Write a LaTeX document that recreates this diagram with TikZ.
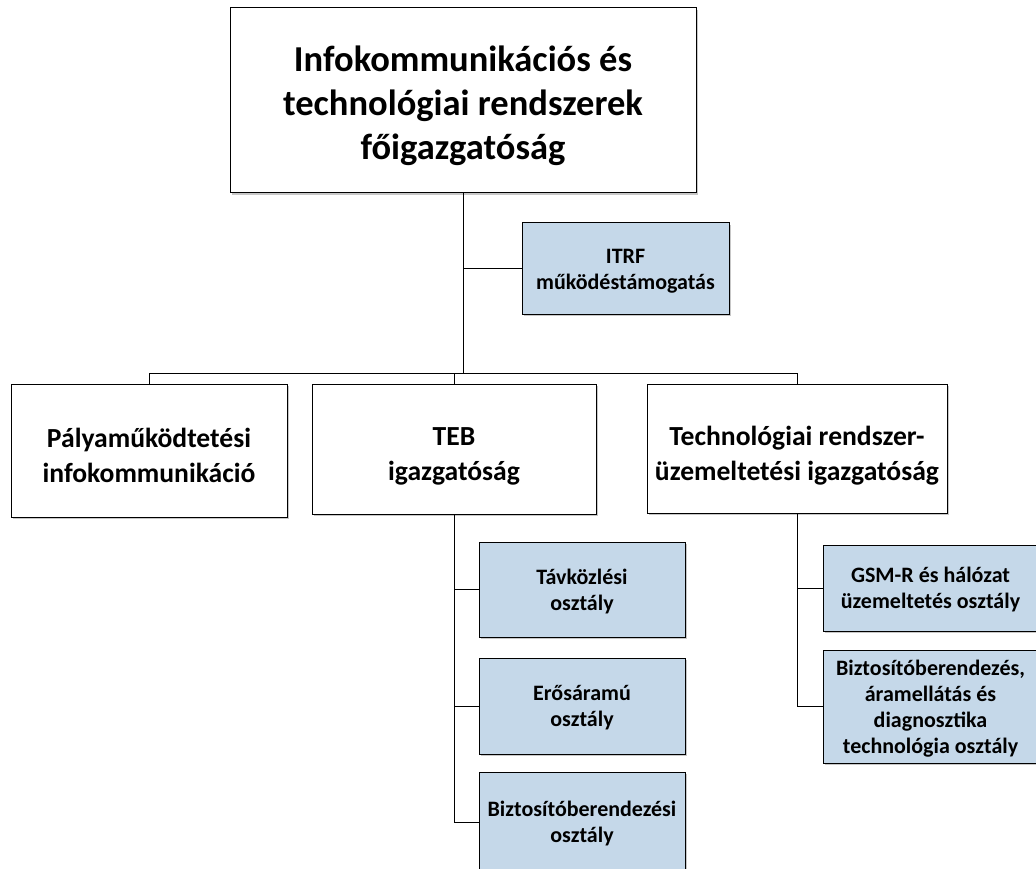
\documentclass[tikz,border=0pt]{standalone}
\usepackage{fontspec}
\setmainfont{Carlito}
\usetikzlibrary{shadows}
\definecolor{unitblue}{HTML}{C5D8E9}
% struts fixing the ascent of a first line and the descent of a last line
\newcommand\bigA{\rule{0pt}{38pt}}
\newcommand\bigD{\rule[-7pt]{0pt}{7pt}}
\newcommand\midA{\rule{0pt}{34pt}}
\newcommand\midD{\rule[-5.5pt]{0pt}{5.5pt}}
\newcommand\depA{\rule{0pt}{21pt}}
\newcommand\depD{\rule[-5.5pt]{0pt}{5.5pt}}
\tikzset{
  x=1pt, y=-1pt,
  unit/.style={draw=black, line width=1pt, fill=white, align=center,
    inner sep=0pt,
    drop shadow={shadow xshift=2.2pt, shadow yshift=-2.2pt, fill=black!22, opacity=1}},
  big/.style={unit, font=\bfseries\fontsize{36.5}{44}\selectfont},
  mid/.style={unit, font=\bfseries\fontsize{27.6}{35}\selectfont},
  dept/.style={unit, fill=unitblue, font=\bfseries\fontsize{22}{26}\selectfont},
  link/.style={draw=black, line width=1pt},
}
\begin{document}
\begin{tikzpicture}
\useasboundingbox (0,0) rectangle (1036,869);
\clip (0,0) rectangle (1036,869);
\fill[white] (0,0) rectangle (1036,869);

% top level
\node[big, minimum width=466pt, minimum height=185pt] (top) at (463,100.5)
  {\bigA Infokommunikációs és\\technológiai rendszerek\\főigazgatóság\bigD};
\node[dept, minimum width=207pt, minimum height=91pt] (itrf) at (625.5,268.5)
  {\depA ITRF\\működéstámogatás\depD};

% directorates
\node[mid, minimum width=276pt, minimum height=133pt] (pal) at (149,450.5)
  {\midA Pályaműködtetési\\infokommunikáció\midD};
\node[mid, minimum width=284pt, minimum height=130pt] (teb) at (454,449)
  {\midA TEB\\igazgatóság\midD};
\node[mid, minimum width=300pt, minimum height=129pt] (tech) at (797,448.5)
  {\midA Technológiai rendszer-\\üzemeltetési igazgatóság\midD};

% TEB departments
\node[dept, minimum width=206pt, minimum height=95pt] (tav) at (582,589.5)
  {\depA Távközlési\\osztály\depD};
\node[dept, minimum width=206pt, minimum height=96pt] (ero) at (582,706)
  {\depA Erősáramú\\osztály\depD};
\node[dept, minimum width=206pt, minimum height=100pt] (biz) at (582,822)
  {\depA Biztosítóberendezési\\osztály\depD};

% technology departments
\node[dept, minimum width=215pt, minimum height=86pt] (gsm) at (930.5,588)
  {\depA GSM-R és hálózat\\üzemeltetés osztály\depD};
\node[dept, minimum width=215pt, minimum height=113pt] (bat) at (930.5,706.5)
  {\depA Biztosítóberendezés,\\áramellátás és\\diagnosztika\\technológia osztály\depD};

% connectors
\coordinate (bus) at (0,373);
\draw[link] (top.south) -- (top.south |- bus);
\draw[link] (itrf.west) -- (itrf.west -| top.south);
\draw[link] (pal.north) -- (pal.north |- bus) -- (tech.north |- bus) -- (tech.north);
\draw[link] (teb.north) -- (teb.north |- bus);
\draw[link] (teb.south) |- (tav.west);
\draw[link] (teb.south) |- (ero.west);
\draw[link] (teb.south) |- (biz.west);
\draw[link] (tech.south) |- (gsm.west);
\draw[link] (tech.south) |- (bat.west);
\end{tikzpicture}
\end{document}
